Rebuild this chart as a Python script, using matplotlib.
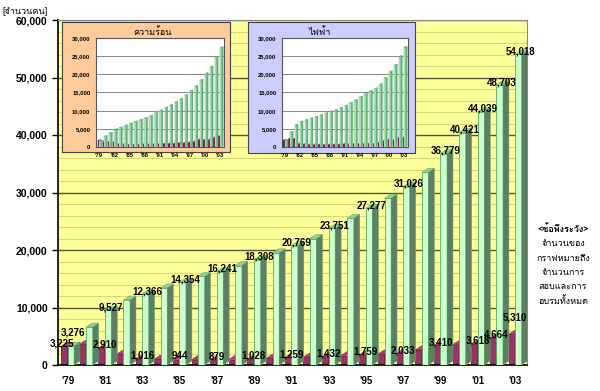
import numpy as np
import matplotlib
matplotlib.use("Agg")
import matplotlib.pyplot as plt
from matplotlib.patches import Polygon
from matplotlib import font_manager
from matplotlib.ft2font import FT2Font


def thai_family():
    for f in font_manager.fontManager.ttflist:
        try:
            if 0x0E01 in FT2Font(f.fname).get_charmap():
                return f.name
        except Exception:
            pass
    return "DejaVu Sans"


THAI = thai_family()
NUM = "Liberation Sans"

# ---- data ----
years = ["'79", "'80", "'81", "'82", "'83", "'84", "'85", "'86", "'87", "'88",
         "'89", "'90", "'91", "'92", "'93", "'94", "'95", "'96", "'97", "'98",
         "'99", "'00", "'01", "'02", "'03"]
total = [3276, 6600, 9527, 11300, 12366, 13400, 14354, 15400, 16241, 17300,
         18308, 19500, 20769, 22000, 23751, 25500, 27277, 29000, 31026, 33500,
         36779, 40421, 44039, 48703, 54018]
passed = [3225, 3600, 2910, 1900, 1016, 1000, 944, 900, 879, 950,
          1028, 1150, 1259, 1350, 1432, 1600, 1759, 1900, 2033, 2600,
          3410, 3500, 3618, 4664, 5310]
total_labeled = [0, 2, 4, 6, 8, 10, 12, 14, 16, 18, 20, 21, 22, 23, 24]
passed_labeled = [0, 2, 4, 6, 8, 10, 12, 14, 16, 18, 20, 22, 23, 24]

heat_total = [1700, 2900, 3800, 4800, 5300, 5900, 6400, 6900, 7400, 7900,
              8500, 9300, 10000, 10800, 11500, 12300, 13200, 14200, 15400, 16700,
              18400, 20200, 22000, 24500, 27300]
heat_passed = [1700, 1500, 1300, 1300, 700, 700, 600, 600, 600, 700,
               700, 700, 800, 800, 900, 900, 1000, 1000, 1200, 1500,
               2000, 1900, 2000, 2600, 2900]
elec_total = [1800, 4000, 6000, 6900, 7400, 7800, 8200, 8700, 9200, 9700,
              10100, 10700, 11300, 12100, 12800, 13700, 14600, 15300, 16000, 17200,
              18900, 20700, 22500, 24900, 27400]
elec_passed = [1800, 2200, 2200, 900, 700, 600, 600, 600, 500, 600,
               600, 600, 700, 700, 900, 800, 900, 900, 800, 1100,
               1600, 2000, 1800, 2400, 2600]

inset_ticks = ["'79", "'82", "'85", "'88", "'91", "'94", "'97", "'00", "'03"]


def bars3d(ax, xs, vals, width, face, side, top, edge, dx, dy, z, lw=0.6):
    bars = ax.bar(xs, vals, width, align="edge", color=face, edgecolor=edge,
                  linewidth=lw, zorder=z)
    for b in bars:
        x0, w, h = b.get_x(), b.get_width(), b.get_height()
        ax.add_patch(Polygon([(x0 + w, 0), (x0 + w + dx, dy), (x0 + w + dx, h + dy), (x0 + w, h)],
                             closed=True, facecolor=side, edgecolor=edge, linewidth=lw * 0.6, zorder=z + 0.1))
        ax.add_patch(Polygon([(x0, h), (x0 + w, h), (x0 + w + dx, h + dy), (x0 + dx, h + dy)],
                             closed=True, facecolor=top, edgecolor=edge, linewidth=lw * 0.6, zorder=z + 0.1))


fig = plt.figure(figsize=(6, 3.91), dpi=100)
W, H = 600.0, 391.0


def box(l, t, r, b):
    return [l / W, 1 - b / H, (r - l) / W, (b - t) / H]


x = np.arange(len(years))

# ---- main chart ----
ax = fig.add_axes(box(58, 20, 527, 365))
ax.set_facecolor("#ffff99")
ax.set_xlim(-0.51, 24.64)
ax.set_ylim(0, 60000)
ax.set_yticks(np.arange(0, 60001, 10000))
ax.set_yticks(np.arange(0, 60001, 2000), minor=True)
ax.set_yticklabels([f"{v:,}" for v in range(0, 60001, 10000)],
                   fontsize=7.5, fontweight="bold", family=NUM)
ax.grid(axis="y", which="major", color="#555533", linewidth=1.0, zorder=0)
ax.grid(axis="y", which="minor", color="#d8d877", linewidth=0.8, zorder=0)
ax.set_axisbelow(True)
ax.tick_params(axis="y", which="major", length=4, width=1, direction="out")
ax.tick_params(axis="y", which="minor", length=0)
ax.set_xticks(x[::2])
ax.set_xticklabels(years[::2], fontsize=7, fontweight="bold", family=NUM)
ax.tick_params(axis="x", length=0, pad=8)
for s in ["top", "right"]:
    ax.spines[s].set_color("#888888")
    ax.spines[s].set_linewidth(0.8)
ax.spines["left"].set_linewidth(1.2)
ax.spines["bottom"].set_linewidth(1.2)

bars3d(ax, x - 0.35, passed, 0.35, "#993366", "#660033", "#cc3377", "#772244", 0.32, 700, 2)
bars3d(ax, x, total, 0.35, "#ccffcc", "#5f7f64", "#99cc99", "#55aa66", 0.32, 700, 3)

for i in total_labeled:
    lift = 2300 if i == 0 else 500
    ax.text(x[i] + 0.3, total[i] + lift, f"{total[i]:,}", ha="center", va="center",
            fontsize=7, fontweight="bold", family=NUM, zorder=6)
for i in passed_labeled:
    lift = 2300 if i == len(years) - 1 else 0
    dxl = -0.3 if i == 0 else 0.0
    ax.text(x[i] + dxl, passed[i] - 300 + lift, f"{passed[i]:,}", ha="center", va="bottom",
            fontsize=7, fontweight="bold", family=NUM, zorder=6)

fig.text(2 / W, 1 - 11 / H, "[จำนวนคน]", fontsize=6.5, family=[THAI, "DejaVu Sans"],
         va="center", ha="left")


# ---- insets ----
def inset(frame, inner, title, tx, tot, pas, bg):
    fr = fig.add_axes(box(*frame))
    fr.set_facecolor(bg)
    fr.set_xticks([])
    fr.set_yticks([])
    for s in fr.spines.values():
        s.set_color("#444444")
        s.set_linewidth(0.8)
    fr.set_zorder(5)
    ia = fig.add_axes(box(*inner))
    ia.set_zorder(6)
    ia.set_facecolor("white")
    ia.set_xlim(-0.6, 24.8)
    ia.set_ylim(0, 30000)
    ia.set_yticks(np.arange(0, 30001, 5000))
    ia.set_yticklabels([f"{v:,}" for v in range(0, 30001, 5000)],
                       fontsize=4.2, fontweight="bold", family=NUM)
    ia.grid(axis="y", color="#888888", linewidth=0.7)
    ia.set_axisbelow(True)
    ia.tick_params(axis="y", length=0, pad=4)
    ia.set_xticks(x[::3])
    ia.set_xticklabels(inset_ticks, fontsize=4.2, fontweight="bold", family=NUM)
    ia.tick_params(axis="x", length=0, pad=4)
    for s in ia.spines.values():
        s.set_color("#555555")
        s.set_linewidth(0.8)
    bars3d(ia, x - 0.3, pas, 0.3, "#990066", "#660044", "#bb3388", "#770055", 0.3, 300, 2, lw=0.3)
    bars3d(ia, x, tot, 0.35, "#bbeecc", "#66aa77", "#99cc99", "#55aa66", 0.3, 300, 3, lw=0.3)
    fig.text(tx / W, 1 - 32 / H, title, fontsize=6.5, family=[THAI, "DejaVu Sans"],
             ha="center", va="center", zorder=10)


inset((62, 22, 230, 152), (96, 38, 224, 147), "ความร้อน", 153, heat_total, heat_passed, "#ffcc99")
inset((248, 22, 415, 153), (282, 38, 408, 147), "ไฟฟ้า", 320, elec_total, elec_passed, "#ccccff")

# ---- note on the right ----
note = ["จำนวนของ", "กราฟหมายถึง", "จำนวนการ", "สอบและการ", "อบรมทั้งหมด"]
fig.text(563 / W, 1 - 229 / H, "<ข้อพึงระวัง>", fontsize=6.5, fontweight="bold",
         family=[THAI, "DejaVu Sans"], ha="center", va="center")
for k, line in enumerate(note):
    fig.text(563 / W, 1 - (244 + 14.3 * k) / H, line, fontsize=6.5,
             family=[THAI, "DejaVu Sans"], ha="center", va="center")

fig.savefig("out.png", dpi=100)
